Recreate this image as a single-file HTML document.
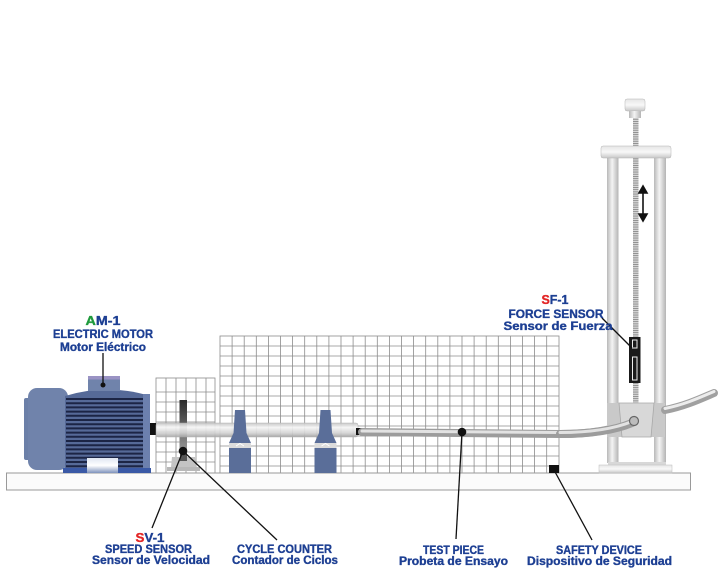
<!DOCTYPE html>
<html><head><meta charset="utf-8"><style>
html,body{margin:0;padding:0;background:#fff;}
svg{display:block;}
text{font-family:"Liberation Sans",Arial,sans-serif;font-weight:bold;fill:#1d3f93;stroke:#1d3f93;stroke-width:0.35;}
</style></head><body>
<svg width="723" height="584" viewBox="0 0 723 584" xmlns="http://www.w3.org/2000/svg">
<defs>
<linearGradient id="shaft" x1="0" y1="0" x2="0" y2="1">
<stop offset="0" stop-color="#c4c4c4"/><stop offset="0.3" stop-color="#f6f6f6"/><stop offset="0.7" stop-color="#d4d4d4"/><stop offset="1" stop-color="#a6a6a6"/>
</linearGradient>
<linearGradient id="col" x1="0" y1="0" x2="1" y2="0">
<stop offset="0" stop-color="#b8b8b8"/><stop offset="0.45" stop-color="#f4f4f4"/><stop offset="1" stop-color="#b4b4b4"/>
</linearGradient>
<linearGradient id="plateg" x1="0" y1="0" x2="0" y2="1">
<stop offset="0" stop-color="#e6e6e6"/><stop offset="0.5" stop-color="#f8f8f8"/><stop offset="1" stop-color="#c8c8c8"/>
</linearGradient>
<linearGradient id="bar" x1="0" y1="0" x2="0" y2="1">
<stop offset="0" stop-color="#2a2a2a"/><stop offset="1" stop-color="#9a9a9a"/>
</linearGradient>
<linearGradient id="foot" x1="0" y1="0" x2="0" y2="1">
<stop offset="0" stop-color="#dfe6f2"/><stop offset="0.5" stop-color="#ffffff"/><stop offset="1" stop-color="#7f93bd"/>
</linearGradient>
<pattern id="thread" x="0" y="0" width="6" height="2.2" patternUnits="userSpaceOnUse">
<rect width="6" height="2.2" fill="#d8d8d8"/><rect width="6" height="0.9" fill="#8a8a8a"/>
</pattern>
</defs>

<!-- big grid -->
<g stroke="#8c8c8c" stroke-width="0.8" fill="none">
<rect x="220" y="336" width="339" height="137" fill="#fff"/>
<path d="M232.1 336V473M244.2 336V473M256.3 336V473M268.4 336V473M280.5 336V473M292.6 336V473M304.7 336V473M316.8 336V473M328.9 336V473M341 336V473M353.1 336V473M365.2 336V473M377.3 336V473M389.4 336V473M401.5 336V473M413.6 336V473M425.7 336V473M437.8 336V473M449.9 336V473M462 336V473M474.1 336V473M486.2 336V473M498.3 336V473M510.4 336V473M522.5 336V473M534.6 336V473M546.7 336V473"/>
<path d="M220 346H559M220 356H559M220 366H559M220 376H559M220 386H559M220 396H559M220 406H559M220 416H559M220 426H559M220 436H559M220 446H559M220 456H559M220 466H559"/>
<!-- small grid -->
<rect x="156" y="378" width="59" height="95" fill="#fff"/>
<path d="M166 378V473M176 378V473M186 378V473M196 378V473M206 378V473"/>
<path d="M156 392H215M156 402H215M156 412H215M156 422H215M156 432H215M156 442H215M156 452H215M156 462H215"/>
</g>

<!-- base plate -->
<rect x="6.5" y="473" width="684" height="17" fill="#fbfbfb" stroke="#9a9a9a" stroke-width="1"/>

<!-- motor -->
<rect x="24" y="398" width="6" height="62" rx="2" fill="#6c80a8"/>
<rect x="28" y="388" width="40" height="82" rx="9" fill="#7083ab"/>
<path d="M65 396 Q107 383 150 396 L150 470 L65 470 Z" fill="#566a98"/>
<rect x="143" y="394" width="7" height="76" fill="#6c80ae"/>
<g stroke="#1c2545" stroke-width="2">
<path d="M66 399H143M66 403.2H143M66 407.4H143M66 411.6H143M66 415.8H143M66 420H143M66 424.2H143M66 428.4H143M66 432.6H143M66 436.8H143M66 441H143M66 445.2H143M66 449.4H143M66 453.6H143M66 457.8H143M66 462H143M66 466.2H143"/>
</g>
<rect x="88" y="376" width="32" height="15" fill="#7083ab"/>
<rect x="88" y="376" width="32" height="3.5" fill="#9a93c4"/>
<rect x="63" y="468" width="88" height="5" fill="#3a59a6"/>
<rect x="87" y="458" width="31" height="15" fill="url(#foot)"/>
<rect x="150" y="423" width="6" height="12" fill="#111"/>

<!-- speed sensor disc bar -->
<rect x="179.5" y="400" width="7.5" height="52" fill="url(#bar)"/>

<!-- shaft -->
<rect x="156" y="423" width="202" height="14" rx="2" fill="url(#shaft)" opacity="0.92" stroke="#b0b0b0" stroke-width="0.5"/>
<rect x="356" y="428" width="7" height="7" fill="#111"/>

<!-- test piece -->
<path d="M362 432 L560 434 C590 434 615 430 636 421" fill="none" stroke="#9c9c9c" stroke-width="8" stroke-linecap="round"/>
<path d="M362 431 L560 432.5 C590 432.5 615 428.5 636 419.5" fill="none" stroke="#e2e2e2" stroke-width="3" stroke-linecap="round"/>

<!-- cones -->
<g id="cone">
<path d="M235 410 H245 L246.5 433 L251 443 H229 L233.5 433 Z" fill="#5a6e99"/>
<rect x="229" y="443" width="22" height="5" fill="#dcdcdc"/>
<path d="M236 446 L240 443.5 L244 446" fill="none" stroke="#fff" stroke-width="1"/>
<rect x="229" y="448" width="22" height="25" fill="#5a6e99"/>
</g>
<use href="#cone" x="85.5"/>

<!-- speed sensor base -->
<path d="M172 457 H195 L196 467 H171 Z" fill="#c4c4c4"/>
<rect x="167" y="467" width="33" height="4" fill="#b8b8b8"/>
<rect x="180" y="453" width="7" height="8" fill="#555"/>
<circle cx="183" cy="451" r="4.3" fill="#111"/>

<!-- force column -->
<rect x="607" y="157" width="11.5" height="306" fill="url(#col)"/>
<rect x="654" y="157" width="12" height="306" fill="url(#col)"/>
<rect x="633" y="117" width="5.5" height="288" fill="url(#thread)"/>
<rect x="601" y="146" width="70" height="12" rx="2" fill="url(#plateg)" stroke="#b4b4b4" stroke-width="0.5"/>
<rect x="625" y="99" width="20" height="12" rx="2" fill="url(#plateg)" stroke="#b4b4b4" stroke-width="0.5"/>
<rect x="629" y="111" width="12" height="7" fill="url(#col)"/>
<rect x="608" y="462" width="58" height="4" fill="#d8d8d8"/>
<rect x="599" y="465" width="73" height="8" fill="url(#plateg)" stroke="#bdbdbd" stroke-width="0.5"/>

<!-- double arrow -->
<g stroke="#111" stroke-width="1.6" fill="#111">
<path d="M643 192 V215" fill="none"/>
<path d="M643 186 L639 193 L647 193 Z"/>
<path d="M643 221 L639 214 L647 214 Z"/>
</g>

<!-- force sensor -->
<rect x="629" y="337" width="11.5" height="46" fill="#1a1a1a"/>
<rect x="632.5" y="340" width="4.5" height="8" fill="none" stroke="#eee" stroke-width="1"/>
<rect x="632.5" y="357" width="4.5" height="23" fill="none" stroke="#eee" stroke-width="1"/>

<!-- clamp block -->
<rect x="607" y="403" width="58" height="34" fill="#c9c9c9"/>
<path d="M619 403 H654 L651 437 H622 Z" fill="#d8d8d8" stroke="#a8a8a8" stroke-width="0.8"/>
<path d="M560 434 C590 434 615 430 632 423" fill="none" stroke="#9c9c9c" stroke-width="8" stroke-linecap="round"/>
<path d="M560 432.5 C590 432.5 615 428.5 632 421.5" fill="none" stroke="#e2e2e2" stroke-width="3" stroke-linecap="round"/>
<circle cx="634" cy="421" r="4.5" fill="#bcbcbc" stroke="#666" stroke-width="1.2"/>
<!-- right tube -->
<path d="M665 410 C685 406 700 399 714 393" fill="none" stroke="#a0a0a0" stroke-width="8" stroke-linecap="round"/>
<path d="M665 408.5 C685 404.5 700 397.5 714 391.5" fill="none" stroke="#ececec" stroke-width="3" stroke-linecap="round"/>

<!-- safety device -->
<rect x="549" y="465" width="10" height="8" fill="#111"/>

<!-- leaders -->
<g stroke="#111" stroke-width="1.3" fill="none">
<path d="M103 353 V385"/>
<path d="M602 318 L632 348"/>
<path d="M183 451 L152 528"/>
<path d="M183 451 L277 540"/>
<path d="M462 432 L456 539"/>
<path d="M554 470 L592 540"/>
</g>
<circle cx="103" cy="385" r="2.5" fill="#111"/>
<circle cx="462" cy="432" r="4.3" fill="#111"/>

<!-- labels -->
<g font-size="11.5" text-anchor="middle">
<text x="103" y="325" font-size="13" textLength="35" lengthAdjust="spacingAndGlyphs"><tspan fill="#1f9a3c" stroke="#1f9a3c">A</tspan>M-1</text>
<text x="103" y="338" textLength="100" lengthAdjust="spacingAndGlyphs">ELECTRIC MOTOR</text>
<text x="103" y="351" textLength="86" lengthAdjust="spacingAndGlyphs">Motor Eléctrico</text>

<text x="555" y="304" font-size="13" textLength="27" lengthAdjust="spacingAndGlyphs"><tspan fill="#e32626" stroke="#e32626">S</tspan>F-1</text>
<text x="556" y="318" textLength="95" lengthAdjust="spacingAndGlyphs">FORCE SENSOR</text>
<text x="558" y="330" textLength="109" lengthAdjust="spacingAndGlyphs">Sensor de Fuerza</text>

<text x="150" y="542" font-size="13" textLength="29" lengthAdjust="spacingAndGlyphs"><tspan fill="#e32626" stroke="#e32626">S</tspan>V-1</text>
<text x="148.5" y="553" textLength="87" lengthAdjust="spacingAndGlyphs">SPEED SENSOR</text>
<text x="151" y="564" textLength="118" lengthAdjust="spacingAndGlyphs">Sensor de Velocidad</text>

<text x="284.5" y="553" textLength="95" lengthAdjust="spacingAndGlyphs">CYCLE COUNTER</text>
<text x="285" y="564" textLength="106" lengthAdjust="spacingAndGlyphs">Contador de Ciclos</text>

<text x="453.5" y="554" textLength="61" lengthAdjust="spacingAndGlyphs">TEST PIECE</text>
<text x="453.5" y="565" textLength="109" lengthAdjust="spacingAndGlyphs">Probeta de Ensayo</text>

<text x="599" y="554" textLength="86" lengthAdjust="spacingAndGlyphs">SAFETY DEVICE</text>
<text x="599.5" y="565" textLength="145" lengthAdjust="spacingAndGlyphs">Dispositivo de Seguridad</text>
</g>
</svg>
</body></html>
